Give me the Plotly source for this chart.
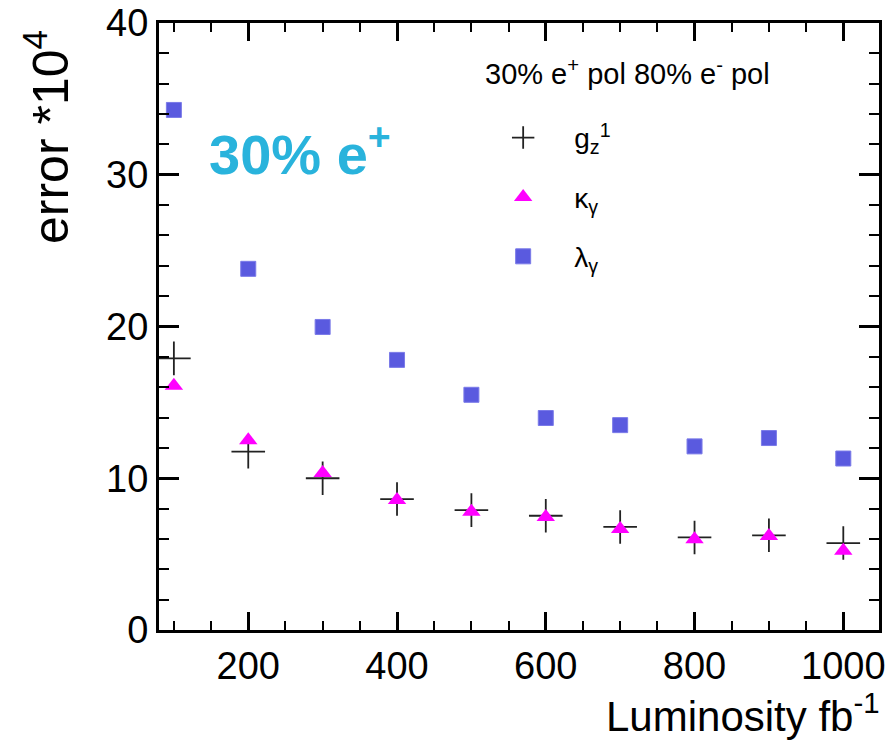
import plotly.graph_objects as go

lumi = [100, 200, 300, 400, 500, 600, 700, 800, 900, 1000]
g1z = [17.9, 11.75, 10.0, 8.63, 7.9, 7.53, 6.79, 6.1, 6.24, 5.73]
kappa = [16.1, 12.5, 10.35, 8.57, 7.8, 7.44, 6.65, 5.98, 6.2, 5.23]
lam = [34.27, 23.8, 19.97, 17.8, 15.5, 13.97, 13.5, 12.1, 12.65, 11.3]

x_ticks = [200, 400, 600, 800, 1000]
y_ticks = [0, 10, 20, 30, 40]

FONT = "Liberation Sans, Arial, Helvetica, sans-serif"
PAD = "\u00a0\u00a0\u00a0\u00a0"

fig = go.Figure()
fig.add_trace(go.Scatter(
    x=lumi, y=g1z, mode="markers", name=PAD + "g<sub>z</sub><sup>1</sup>",
    marker=dict(symbol="cross-thin", size=24, color="#222222",
                line=dict(color="#222222", width=1.8)),
    legendgroup="a"))
fig.add_trace(go.Scatter(
    x=lumi, y=kappa, mode="markers", name=PAD + "κ<sub>γ</sub>",
    marker=dict(symbol="triangle-up", size=16, color="#ff00ff"),
    legendgroup="b"))
fig.add_trace(go.Scatter(
    x=lumi, y=lam, mode="markers", name=PAD + "λ<sub>γ</sub>",
    marker=dict(symbol="square", size=15, color="#5a5adf",
                line=dict(color="#7a7ae8", width=1)),
    legendgroup="c"))

axis_common = dict(
    showgrid=False, zeroline=False, showline=True, linecolor="black",
    linewidth=3, mirror="ticks", ticks="inside", tickcolor="black",
    tickwidth=2.5, tickfont=dict(family=FONT, size=38, color="black"),
    automargin=False,
)

fig.update_xaxes(range=[80, 1048], tickvals=x_ticks, ticklen=18,
                 minor=dict(dtick=50, tick0=0, ticklen=9, ticks="inside",
                            tickcolor="black", tickwidth=2),
                 **axis_common)
fig.update_yaxes(range=[0, 40], tickvals=y_ticks, ticklen=20,
                 minor=dict(dtick=2, tick0=0, ticklen=10, ticks="inside",
                            tickcolor="black", tickwidth=2),
                 **axis_common)

fig.update_layout(
    width=893, height=750,
    margin=dict(l=159, r=14, t=23, b=120),
    plot_bgcolor="white", paper_bgcolor="white",
    showlegend=True,
    legend=dict(x=0.478, y=0.852, xanchor="left", yanchor="top",
                bgcolor="rgba(0,0,0,0)", tracegroupgap=20,
                traceorder="grouped",
                font=dict(family=FONT, size=28, color="black")),
    annotations=[
        dict(text="30% e<sup>+</sup> pol 80% e<sup>-</sup> pol",
             xref="paper", yref="paper", x=(483 - 159) / 720, y=(630 - 72) / 607,
             xanchor="left", yanchor="middle", showarrow=False,
             font=dict(family=FONT, size=29, color="black")),
        dict(text="<b>30% e<sup>+</sup></b>",
             xref="paper", yref="paper", x=(207 - 159) / 720, y=(630 - 150) / 607,
             xanchor="left", yanchor="middle", showarrow=False,
             font=dict(family=FONT, size=56, color="#29b3dc")),
        dict(text="error *10<sup>4</sup>", textangle=-90,
             xref="paper", yref="paper", x=-(159 - 47) / 720, y=(630 - 28) / 607,
             xanchor="center", yanchor="top", showarrow=False,
             font=dict(family=FONT, size=50, color="black")),
        dict(text="Luminosity fb<sup>-1</sup>",
             xref="paper", yref="paper", x=(882 - 159) / 720, y=-(713 - 630) / 607,
             xanchor="right", yanchor="middle", showarrow=False,
             font=dict(family=FONT, size=42, color="black")),
    ],
)

fig.write_html("out.html")
